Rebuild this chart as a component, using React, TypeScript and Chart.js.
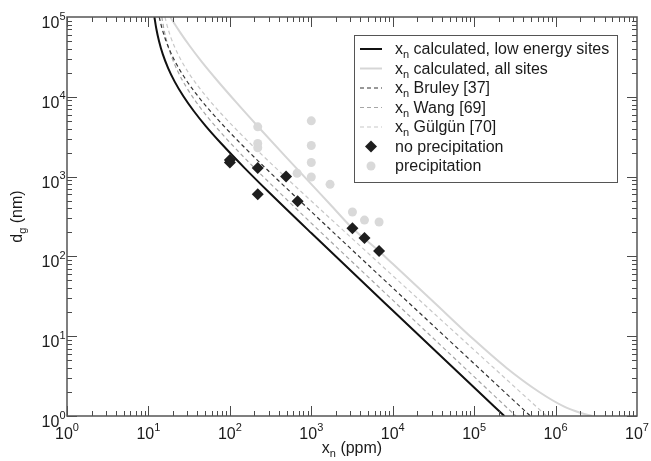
import { useEffect, useRef } from "react";
import { Chart, registerables } from "chart.js";

Chart.register(...registerables);

const FONT = '"Liberation Sans", Arial, Helvetica, sans-serif';

// x_n (ppm) / d_g (nm)
const lowEnergyX = [11.85, 12.5, 13.5, 15, 17.5, 21, 27, 36, 50, 80, 150, 300, 1000, 10000, 100000, 235000];
const lowEnergyY = [100000, 71200, 49700, 34200, 22700, 15500, 10070, 6640, 4360, 2540, 1297, 641, 196, 21.0, 2.28, 1];

const allSitesX = [18.6, 20, 25, 32, 45, 70, 120, 221, 500, 1000, 1710, 3160, 6760, 10000, 31600, 100000, 250000, 630000, 1260000, 2000000, 2800000];
const allSitesY = [100000, 88300, 62300, 43600, 27600, 16000, 8500, 4250, 1720, 804, 447, 228, 117, 80.7, 27, 9.0, 4.0, 2.0, 1.32, 1.1, 1];

const bruleyX = [13.57, 14.5, 16, 18.5, 22, 28, 38, 55, 90, 160, 350, 1000, 4000, 30000, 490000];
const bruleyY = [100000, 75500, 54200, 37100, 25900, 17200, 11100, 6990, 4010, 2190, 1005, 364, 96.6, 14.2, 1];

const wangX = [14.6, 15.5, 17, 19.5, 23, 29, 38, 55, 90, 160, 350, 1000, 4000, 30000, 325000];
const wangY = [100000, 70500, 47200, 30700, 20700, 13400, 8770, 5370, 3010, 1622, 733, 261, 68.4, 9.86, 1];

const gulgunX = [15.97, 17, 18.5, 21, 25, 31, 40, 55, 80, 130, 250, 600, 2000, 8000, 60000, 776000];
const gulgunY = [100000, 77400, 58600, 42000, 29100, 20100, 13900, 9250, 6000, 3580, 1860, 800, 258, 70.6, 10.8, 1];

// measurements
const noPrecipX = [100, 100, 220, 220, 490, 680, 3200, 4500, 6800];
const noPrecipY = [1500, 1620, 1280, 600, 1000, 490, 225, 170, 117];
const precipX = [220, 220, 220, 670, 1000, 1000, 1000, 1000, 1700, 3200, 4500, 6800];
const precipY = [4200, 2600, 2300, 1100, 5000, 2450, 1500, 990, 800, 360, 285, 270];

// axes
const xExponents = [0, 1, 2, 3, 4, 5, 6, 7];
const yExponents = [0, 1, 2, 3, 4, 5];

const legendLabels = [
  " calculated, low energy sites",
  " calculated, all sites",
  " Bruley [37]",
  " Wang [69]",
  " Gülgün [70]",
  "no precipitation",
  "precipitation",
];

const pts = (xs: number[], ys: number[]) => xs.map((x, i) => ({ x, y: ys[i] }));

type Part = [string, "n" | "sub" | "sup"];

function drawRich(ctx: CanvasRenderingContext2D, parts: Part[], x: number, y: number, align: "left" | "center" | "right", size = 16) {
  const small = Math.round(size * 0.7);
  const widths = parts.map(([t, k]) => {
    ctx.font = `${k === "n" ? size : small}px ${FONT}`;
    return ctx.measureText(t).width;
  });
  const total = widths.reduce((a, b) => a + b, 0);
  let cx = align === "left" ? x : align === "center" ? x - total / 2 : x - total;
  ctx.textAlign = "left";
  ctx.textBaseline = "alphabetic";
  parts.forEach(([t, k], i) => {
    ctx.font = `${k === "n" ? size : small}px ${FONT}`;
    const dy = k === "sub" ? size * 0.26 : k === "sup" ? -size * 0.53 : 0;
    ctx.fillText(t, cx, y + dy);
    cx += widths[i];
  });
}

const framePlugin = {
  id: "frame",
  afterDatasetsDraw(chart: any) {
    const { ctx, chartArea: a, scales } = chart;
    const xs = scales.x;
    const ys = scales.y;
    ctx.save();
    ctx.strokeStyle = "#4a4a4a";
    ctx.lineWidth = 1;
    ctx.beginPath();
    for (let k = 0; k < xExponents.length - 1; k++) {
      for (let m = 1; m < 10; m++) {
        const px = Math.round(xs.getPixelForValue(m * Math.pow(10, xExponents[k]))) + 0.5;
        const len = m === 1 ? 10 : 5;
        ctx.moveTo(px, a.bottom);
        ctx.lineTo(px, a.bottom - len);
        ctx.moveTo(px, a.top);
        ctx.lineTo(px, a.top + len);
      }
    }
    for (let k = 0; k < yExponents.length - 1; k++) {
      for (let m = 1; m < 10; m++) {
        const py = Math.round(ys.getPixelForValue(m * Math.pow(10, yExponents[k]))) + 0.5;
        const len = m === 1 ? 10 : 5;
        ctx.moveTo(a.left, py);
        ctx.lineTo(a.left + len, py);
        ctx.moveTo(a.right, py);
        ctx.lineTo(a.right - len, py);
      }
    }
    ctx.stroke();
    ctx.strokeStyle = "#555";
    ctx.lineWidth = 1.5;
    ctx.strokeRect(a.left, a.top, a.right - a.left, a.bottom - a.top);

    ctx.fillStyle = "#1a1a1a";
    xExponents.forEach((e) => {
      const px = xs.getPixelForValue(Math.pow(10, e));
      drawRich(ctx, [["10", "n"], [String(e), "sup"]], px, a.bottom + 23, "center");
    });
    yExponents.forEach((e) => {
      const py = ys.getPixelForValue(Math.pow(10, e));
      drawRich(ctx, [["10", "n"], [String(e), "sup"]], a.left - 1.5, py + 11, "right");
    });
    drawRich(ctx, [["x", "n"], ["n", "sub"], [" (ppm)", "n"]], (a.left + a.right) / 2, 453, "center");
    ctx.translate(22, (a.top + a.bottom) / 2);
    ctx.rotate(-Math.PI / 2);
    drawRich(ctx, [["d", "n"], ["g", "sub"], [" (nm)", "n"]], 0, 0, "center");
    ctx.restore();
  },
  afterDraw(chart: any) {
    const { ctx } = chart;
    const ds = chart.data.datasets;
    ctx.save();
    const bx = 354.5, by = 35.5, bw = 263, bh = 147;
    ctx.fillStyle = "#fff";
    ctx.fillRect(bx, by, bw, bh);
    ctx.strokeStyle = "#555";
    ctx.lineWidth = 1;
    ctx.strokeRect(bx, by, bw, bh);
    // legend order: line datasets (index 2..6), then diamonds (0), circles (1)
    const order = [2, 3, 4, 5, 6, 0, 1];
    order.forEach((di, i) => {
      const d = ds[di];
      const cy = 49 + i * 19.5;
      if (di >= 2) {
        ctx.strokeStyle = d.borderColor;
        ctx.lineWidth = d.borderWidth;
        ctx.setLineDash(d.borderDash || []);
        ctx.beginPath();
        ctx.moveTo(360, cy);
        ctx.lineTo(382, cy);
        ctx.stroke();
        ctx.setLineDash([]);
        ctx.fillStyle = "#1a1a1a";
        drawRich(ctx, [["x", "n"], ["n", "sub"], [legendLabels[i], "n"]], 395, cy + 5, "left");
      } else {
        ctx.fillStyle = d.backgroundColor;
        ctx.beginPath();
        const r = d.pointRadius;
        if (di === 0) {
          ctx.moveTo(371, cy - r);
          ctx.lineTo(371 + r, cy);
          ctx.lineTo(371, cy + r);
          ctx.lineTo(371 - r, cy);
          ctx.closePath();
        } else {
          ctx.arc(371, cy, r, 0, Math.PI * 2);
        }
        ctx.fill();
        ctx.fillStyle = "#1a1a1a";
        drawRich(ctx, [[legendLabels[i], "n"]], 395, cy + 5, "left");
      }
    });
    ctx.restore();
  },
};

export default function App() {
  const ref = useRef<HTMLCanvasElement>(null);
  useEffect(() => {
    document.body.style.margin = "0";
    const canvas = ref.current!;
    const line = (label: string, data: any[], color: string, width: number, dash: number[]) => ({
      label,
      data,
      showLine: true,
      borderColor: color,
      backgroundColor: color,
      borderWidth: width,
      borderDash: dash,
      pointRadius: 0,
      cubicInterpolationMode: "monotone",
      fill: false,
    });
    const chart = new Chart(canvas, {
      type: "scatter",
      data: {
        datasets: [
          {
            label: "no precipitation",
            data: pts(noPrecipX, noPrecipY),
            pointStyle: "rectRot",
            pointRadius: 6,
            backgroundColor: "#1e1e1e",
            borderColor: "#1e1e1e",
            borderWidth: 0,
          },
          {
            label: "precipitation",
            data: pts(precipX, precipY),
            pointStyle: "circle",
            pointRadius: 4.5,
            backgroundColor: "#d9d9d9",
            borderColor: "#d9d9d9",
            borderWidth: 0,
          },
          line("x_n calculated, low energy sites", pts(lowEnergyX, lowEnergyY), "#111111", 2, []),
          line("x_n calculated, all sites", pts(allSitesX, allSitesY), "#d6d6d6", 2, []),
          line("x_n Bruley [37]", pts(bruleyX, bruleyY), "#333333", 1.2, [4, 3]),
          line("x_n Wang [69]", pts(wangX, wangY), "#a6a6a6", 1.2, [4, 3]),
          line("x_n Gülgün [70]", pts(gulgunX, gulgunY), "#c8c8c8", 1.2, [4, 3]),
        ] as any,
      },
      options: {
        responsive: false,
        animation: false,
        devicePixelRatio: 1,
        events: [],
        layout: { padding: { left: 67, right: 14, top: 17, bottom: 45 } },
        plugins: { legend: { display: false }, tooltip: { enabled: false } },
        scales: {
          x: { type: "logarithmic", min: 1, max: 1e7, display: false },
          y: { type: "logarithmic", min: 1, max: 1e5, display: false },
        },
      } as any,
      plugins: [framePlugin as any],
    });
    return () => chart.destroy();
  }, []);
  return (
    <div style={{ width: 651, height: 461 }}>
      <canvas ref={ref} width={651} height={461} style={{ display: "block", width: 651, height: 461 }} />
    </div>
  );
}
